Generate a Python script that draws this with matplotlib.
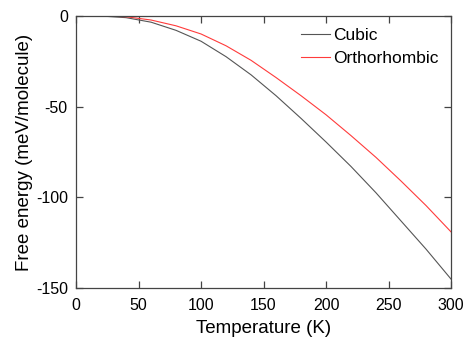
import matplotlib
matplotlib.use("Agg")
import matplotlib.pyplot as plt

plt.rcParams['font.family'] = ['Liberation Sans', 'DejaVu Sans']
plt.rcParams['axes.unicode_minus'] = False

# temperature grid and free energies
temps = [0, 20, 40, 60, 80, 100, 120, 140, 160, 180, 200, 220, 240, 260, 280, 300]
cubic = [0, -0.1, -1.0, -3.5, -8, -14, -22.5, -32.5, -44, -56.5, -69.5, -83, -97.5,
         -113, -128.5, -145]
ortho = [0, -0.05, -0.5, -2.3, -5.5, -10, -16.5, -24.5, -34, -44, -54.5, -66, -78,
         -91, -104.5, -119]

fig = plt.figure(figsize=(4.64, 3.37), dpi=100)
ax = fig.add_axes([0.164, 0.145, 0.808, 0.808])

ax.plot(temps, cubic, color='#555555', lw=0.8, label='Cubic')
ax.plot(temps, ortho, color='#ff3b3b', lw=0.8, label='Orthorhombic')

ax.set_xlim(0, 300)
ax.set_ylim(-150, 0)
ax.set_xticks([0, 50, 100, 150, 200, 250, 300])
ax.set_yticks([-150, -100, -50, 0])
ax.tick_params(direction='in', top=True, right=True, length=5, width=0.9,
               color='#444444', labelsize=11.5)
ax.tick_params(axis='x', pad=7)
ax.tick_params(axis='y', pad=6)
for s in ax.spines.values():
    s.set_color('#444444')
    s.set_linewidth(0.9)

ax.set_xlabel('Temperature (K)', fontsize=13.5, labelpad=5)
ax.set_ylabel('Free energy (meV/molecule)', fontsize=13.5, labelpad=2)

ax.legend(loc='upper right', frameon=False, fontsize=12.5, handlelength=1.65,
          handletextpad=0.2, borderaxespad=0.3, labelspacing=0.45)

fig.savefig('out.png', dpi=100)
